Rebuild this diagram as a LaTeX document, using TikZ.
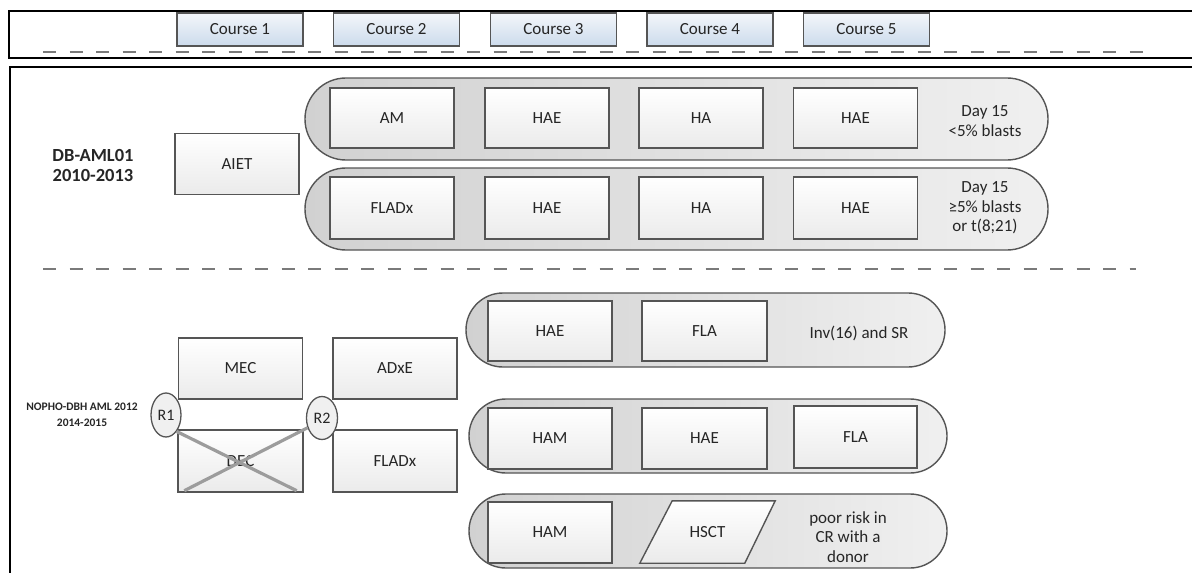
\documentclass[tikz,border=0pt]{standalone}
\usepackage{fontspec}
\setmainfont{Carlito}
\usetikzlibrary{shapes.geometric}
\definecolor{bordc}{HTML}{555555}
\definecolor{sepc}{HTML}{7A7A7A}
\definecolor{crsA}{HTML}{F3F6FA}
\definecolor{crsB}{HTML}{CCDBEC}
\definecolor{txtc}{HTML}{262626}
\definecolor{xc}{HTML}{9C9C9C}
\begin{document}
\begin{tikzpicture}[x=1pt,y=-1pt,
  frame/.style={line width=2pt, draw=black},
  sepline/.style={line width=2.8pt, draw=sepc, dash pattern=on 13pt off 13.5pt},
  course/.style={rectangle, draw=bordc, line width=1.4pt, top color=crsA, bottom color=crsB,
    minimum width=126pt, minimum height=33pt, inner sep=0pt, text=txtc, font=\fontsize{17}{20}\selectfont},
  cbox/.style={rectangle, draw=bordc, line width=1.4pt, top color=white, bottom color=black!8,
    minimum width=124pt, minimum height=61pt, inner sep=0pt, text=txtc, font=\fontsize{17}{20}\selectfont},
  pillbig/.style={rectangle, rounded corners=40.9pt, draw=bordc, line width=1.4pt,
    left color=black!18, right color=black!6, minimum width=743pt, minimum height=82pt, inner sep=0pt},
  pillsmall/.style={rectangle, rounded corners=36.9pt, draw=bordc, line width=1.4pt,
    left color=black!18, right color=black!6, minimum width=478pt, minimum height=74pt, inner sep=0pt},
  lbl/.style={align=center, text=txtc, inner sep=0pt, font=\fontsize{17}{19.5}\selectfont},
  rnd/.style={ellipse, draw=bordc, line width=1.3pt, fill=black!6, inner sep=0pt,
    text=txtc, font=\fontsize{16}{18}\selectfont},
  xline/.style={line width=3.2pt, draw=xc}
]
\useasboundingbox (0,0) rectangle (1192,573);
\fill[white] (0,0) rectangle (1192,573);

% frames
\draw[frame] (1192,11) -- (9,11) -- (9,58) -- (1192,58);
\draw[frame] (1192,67) -- (10,67) -- (10,573);

% course header
\draw[sepline] (43,52) -- (1150,52);
\node[course] (c1) at (240,29.5) {Course 1};
\node[course] (c2) at (396.5,29.5) {Course 2};
\node[course] (c3) at (553.5,29.5) {Course 3};
\node[course] (c4) at (710,29.5) {Course 4};
\node[course] (c5) at (866.5,29.5) {Course 5};

% DB-AML01
\node[align=center, text=txtc, font=\fontsize{18.5}{20}\selectfont\bfseries] (db) at (93,165) {DB-AML01\\2010-2013};
\node[cbox] (aiet) at (237,164) {AIET};

\node[pillbig] (r1) at (676.5,119) {};
\node[pillbig] (r2) at (676.5,209) {};

\node[cbox, minimum height=60pt] (am) at (392,118) {AM};
\node[cbox, minimum height=60pt] (hae1) at (547,118) {HAE};
\node[cbox, minimum height=60pt] (ha1) at (701,118) {HA};
\node[cbox, minimum height=60pt] (hae2) at (855.5,118) {HAE};
\node[lbl] (d1) at (985,121) {Day 15\\<5\% blasts};

\node[cbox, minimum height=62pt] (fladx1) at (392,208) {FLADx};
\node[cbox, minimum height=62pt] (hae3) at (547,208) {HAE};
\node[cbox, minimum height=62pt] (ha2) at (701,208) {HA};
\node[cbox, minimum height=62pt] (hae4) at (855.5,208) {HAE};
\node[lbl] (d2) at (985,208) {Day 15\\≥5\% blasts\\or t(8;21)};

\draw[sepline] (43,269) -- (1136,269);

% NOPHO-DBH AML 2012
\node[align=center, text=txtc, font=\fontsize{11.5}{15.5}\selectfont\bfseries] (nopho) at (82,415) {NOPHO-DBH AML 2012\\2014-2015};

\node[cbox] (mec) at (240.5,368.5) {MEC};
\node[cbox, minimum width=125pt, minimum height=62pt] (dec) at (240.5,461) {DEC};
\node[cbox] (adxe) at (395,368.5) {ADxE};
\node[cbox, minimum height=62pt] (fladx2) at (395,461) {FLADx};

\node[rnd, minimum width=30pt, minimum height=44pt] (R1) at (166,415) {R1};
\node[rnd, minimum width=31pt, minimum height=43pt] (R2) at (322,418) {R2};

\draw[xline] (R1.-57) -- ([shift={(-7,-2)}]dec.south east);
\draw[xline] (R2.-146) -- ([shift={(7,-2)}]dec.south west);

% risk rows
\node[pillsmall, minimum width=479pt] (pa) at (705.5,330) {};
\node[cbox, minimum height=60pt] (hae5) at (550,331) {HAE};
\node[cbox, minimum width=125pt, minimum height=60pt] (fla1) at (704.5,331) {FLA};
\node[lbl] (inv) at (859,333) {Inv(16) and SR};

\node[pillsmall] (pb) at (708,436) {};
\node[cbox] (ham1) at (550,438.5) {HAM};
\node[cbox, minimum width=125pt] (hae6) at (704.5,438.5) {HAE};
\node[cbox, minimum width=123pt, minimum height=62pt] (fla2) at (855.5,437) {FLA};

\node[pillsmall] (pc) at (708,531) {};
\node[cbox] (ham2) at (550,532.5) {HAM};
\node[inner sep=0pt, minimum width=135pt, minimum height=62pt] (hsctbox) at (707.5,532) {};
\draw[draw=bordc, line width=1.4pt, top color=white, bottom color=black!8]
  (hsctbox.south west) -- ++(105,0) -- (hsctbox.north east) -- ++(-103,0) -- cycle;
\node[lbl] (hsct) at (hsctbox.center) {HSCT};
\node[lbl] (poor) at (848,537) {poor risk in\\CR with a\\donor};
\end{tikzpicture}
\end{document}
